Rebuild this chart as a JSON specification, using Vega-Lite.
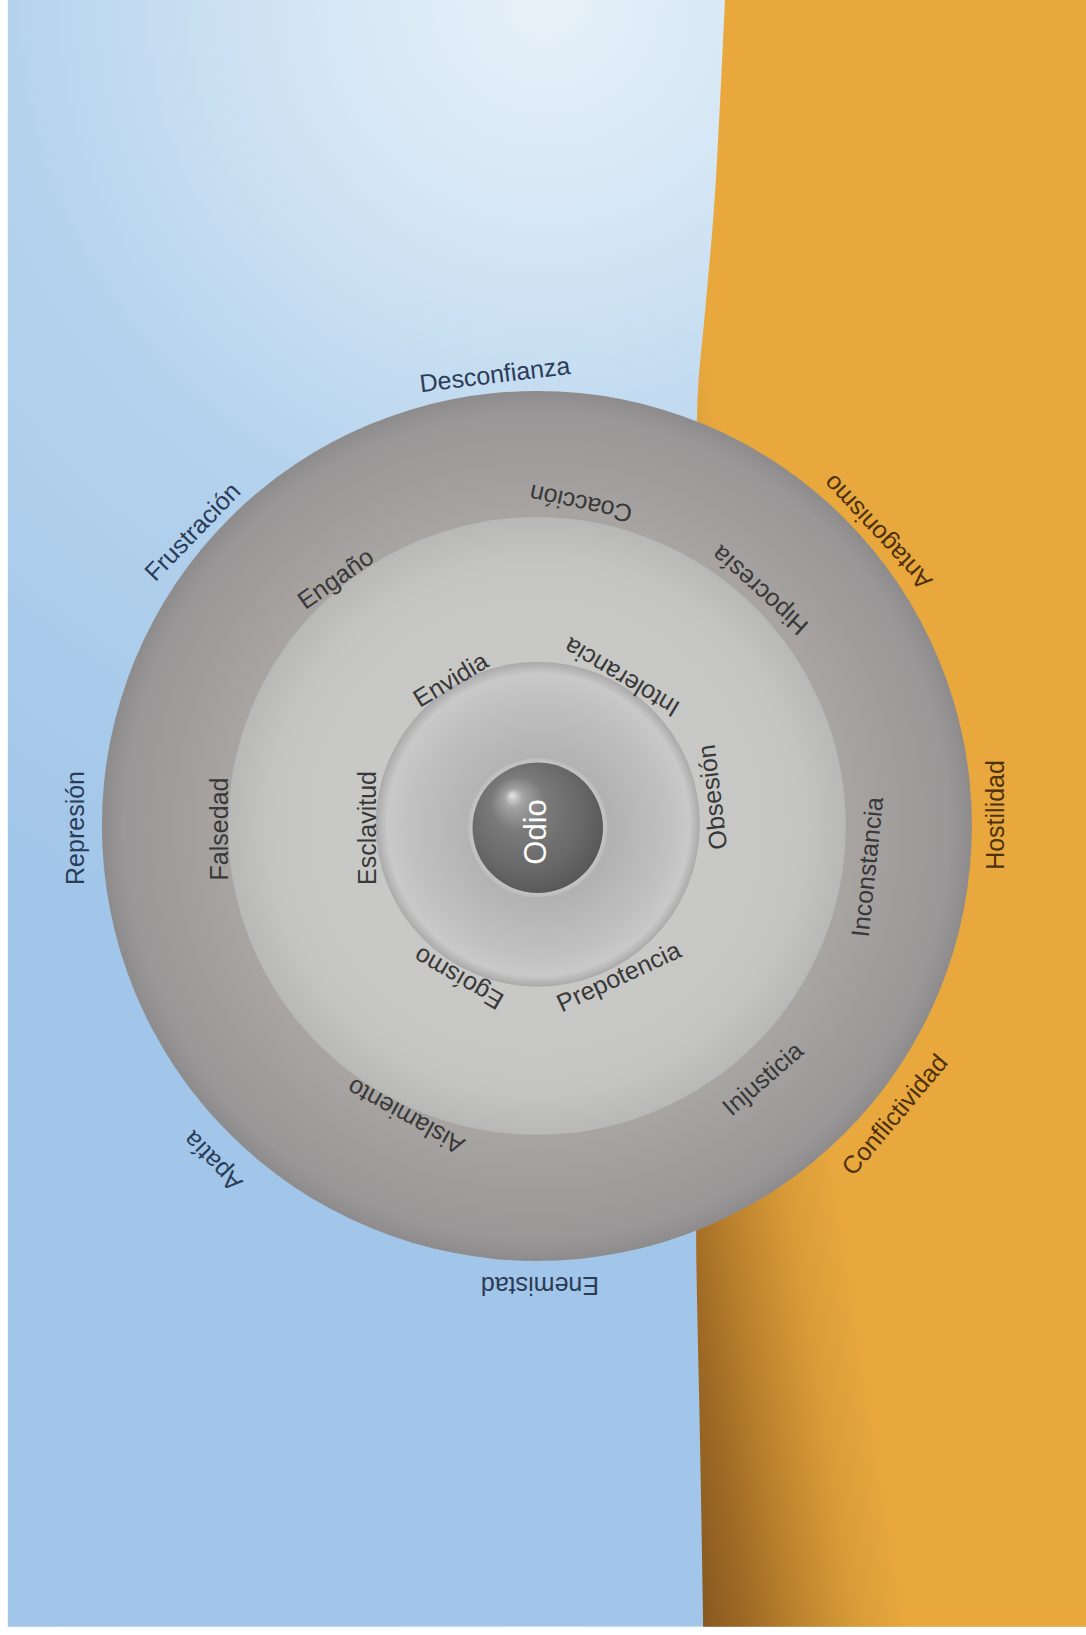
{
  "$schema": "https://vega.github.io/schema/vega-lite/v6.json",
  "width": 1086,
  "height": 1635,
  "autosize": {"type": "fit", "contains": "padding"},
  "padding": 0,
  "background": "#ffffff",
  "config": {"view": {"stroke": null}},
  "layer": [
    {
      "data": {"values": [{"zona": "cielo", "x0": -121.6, "x1": 126.2, "y0": -184.1, "y1": 189.9}]},
      "mark": {"type": "rect", "stroke": null,
        "fill": {"gradient": "radial", "x1": 0.5, "y1": 0.0, "r1": 0, "x2": 0.5, "y2": 0.0, "r2": 0.62,
          "stops": [{"offset": 0, "color": "#e7f1f9"}, {"offset": 0.25, "color": "#d3e5f4"}, {"offset": 0.55, "color": "#b4d2ed"}, {"offset": 1, "color": "#a2c6e9"}]}},
      "encoding": {
        "x": {"field": "x0", "type": "quantitative", "axis": null, "scale": {"domain": [-123.4, 126.2], "nice": false, "zero": false}},
        "x2": {"field": "x1"},
        "y": {"field": "y0", "type": "quantitative", "axis": null, "scale": {"domain": [-186, 189.9], "nice": false, "zero": false}},
        "y2": {"field": "y1"}
      }
    },
    {
      "data": {"values": [
        {"x": 43.22, "y": 189.9},
        {"x": 42.07, "y": 165.98},
        {"x": 40.69, "y": 141.84},
        {"x": 38.62, "y": 117.93},
        {"x": 36.9, "y": 97.93},
        {"x": 36.6, "y": 80.0},
        {"x": 36.6, "y": -94.25},
        {"x": 36.8, "y": -108.97},
        {"x": 37.3, "y": -131.95},
        {"x": 38.2, "y": -184.1}
      ]},
      "mark": {"type": "area", "orient": "horizontal", "interpolate": "monotone",
        "fill": {"gradient": "linear", "x1": 0, "y1": 1, "x2": 0.383, "y2": 0.7475,
          "stops": [{"offset": 0, "color": "#845720"}, {"offset": 0.25, "color": "#9f6a25"}, {"offset": 0.5, "color": "#bf852e"}, {"offset": 0.75, "color": "#d89c38"}, {"offset": 1, "color": "#e8a83e"}]}},
      "encoding": {
        "y": {"field": "y", "type": "quantitative", "axis": null, "scale": {"domain": [-186, 189.9], "nice": false, "zero": false}},
        "x": {"field": "x", "type": "quantitative", "axis": null, "scale": {"domain": [-123.4, 126.2], "nice": false, "zero": false}},
        "x2": {"datum": 126.2}
      }
    },
    {
      "data": {"values": [{"anillo": "exterior", "cx": 0, "cy": 0, "diametro": 200}]},
      "mark": {"type": "point", "shape": "circle", "filled": true, "opacity": 1, "strokeWidth": 0,
        "fill": {"gradient": "radial", "x1": 0.5, "y1": 0.5, "r1": 0, "x2": 0.5, "y2": 0.5, "r2": 0.5,
          "stops": [{"offset": 0, "color": "#b4b2b0"}, {"offset": 0.72, "color": "#a7a4a2"}, {"offset": 0.95, "color": "#999797"}, {"offset": 1, "color": "#8d8b8b"}]}},
      "encoding": {
        "x": {"field": "cx", "type": "quantitative", "axis": null, "scale": {"domain": [-123.4, 126.2], "nice": false, "zero": false}},
        "y": {"field": "cy", "type": "quantitative", "axis": null, "scale": {"domain": [-186, 189.9], "nice": false, "zero": false}},
        "size": {"field": "diametro", "type": "quantitative", "legend": null, "scale": {"type": "pow", "exponent": 2, "domain": [0, 200], "range": [0, 756900]}}
      }
    },
    {
      "data": {"values": [{"anillo": "medio", "cx": 0, "cy": 0, "diametro": 142}]},
      "mark": {"type": "point", "shape": "circle", "filled": true, "opacity": 1, "strokeWidth": 0,
        "fill": {"gradient": "radial", "x1": 0.5, "y1": 0.5, "r1": 0, "x2": 0.5, "y2": 0.5, "r2": 0.5,
          "stops": [{"offset": 0, "color": "#cdcdcb"}, {"offset": 0.85, "color": "#c5c5c3"}, {"offset": 1, "color": "#b8b8b6"}]}},
      "encoding": {
        "x": {"field": "cx", "type": "quantitative", "axis": null, "scale": {"domain": [-123.4, 126.2], "nice": false, "zero": false}},
        "y": {"field": "cy", "type": "quantitative", "axis": null, "scale": {"domain": [-186, 189.9], "nice": false, "zero": false}},
        "size": {"field": "diametro", "type": "quantitative", "legend": null, "scale": {"type": "pow", "exponent": 2, "domain": [0, 200], "range": [0, 756900]}}
      }
    },
    {
      "data": {"values": [{"anillo": "interior", "cx": 0.2, "cy": 0.4, "diametro": 74.5}]},
      "mark": {"type": "point", "shape": "circle", "filled": true, "opacity": 1, "strokeWidth": 0,
        "fill": {"gradient": "radial", "x1": 0.53, "y1": 0.53, "r1": 0, "x2": 0.5, "y2": 0.5, "r2": 0.5,
          "stops": [{"offset": 0, "color": "#a8a8a8"}, {"offset": 0.45, "color": "#b3b3b3"}, {"offset": 0.8, "color": "#c1c1c1"}, {"offset": 0.93, "color": "#c9c9c9"}, {"offset": 1, "color": "#a9a9a9"}]}},
      "encoding": {
        "x": {"field": "cx", "type": "quantitative", "axis": null, "scale": {"domain": [-123.4, 126.2], "nice": false, "zero": false}},
        "y": {"field": "cy", "type": "quantitative", "axis": null, "scale": {"domain": [-186, 189.9], "nice": false, "zero": false}},
        "size": {"field": "diametro", "type": "quantitative", "legend": null, "scale": {"type": "pow", "exponent": 2, "domain": [0, 200], "range": [0, 756900]}}
      }
    },
    {
      "data": {"values": [{"anillo": "halo", "cx": 0.2, "cy": -0.4, "diametro": 32}]},
      "mark": {"type": "point", "shape": "circle", "filled": true, "opacity": 0.9, "strokeWidth": 0,
        "fill": {"gradient": "radial", "x1": 0.5, "y1": 0.5, "r1": 0, "x2": 0.5, "y2": 0.5, "r2": 0.5,
          "stops": [{"offset": 0.85, "color": "#d4d4d4"}, {"offset": 1, "color": "#bdbdbd"}]}},
      "encoding": {
        "x": {"field": "cx", "type": "quantitative", "axis": null, "scale": {"domain": [-123.4, 126.2], "nice": false, "zero": false}},
        "y": {"field": "cy", "type": "quantitative", "axis": null, "scale": {"domain": [-186, 189.9], "nice": false, "zero": false}},
        "size": {"field": "diametro", "type": "quantitative", "legend": null, "scale": {"type": "pow", "exponent": 2, "domain": [0, 200], "range": [0, 756900]}}
      }
    },
    {
      "data": {"values": [{"anillo": "núcleo", "cx": 0.2, "cy": -0.4, "diametro": 30}]},
      "mark": {"type": "point", "shape": "circle", "filled": true, "opacity": 1, "strokeWidth": 0,
        "fill": {"gradient": "radial", "x1": 0.3, "y1": 0.25, "r1": 0, "x2": 0.45, "y2": 0.45, "r2": 0.6,
          "stops": [{"offset": 0, "color": "#e6e6e6"}, {"offset": 0.12, "color": "#a2a2a2"}, {"offset": 0.35, "color": "#7a7a7a"}, {"offset": 0.75, "color": "#676767"}, {"offset": 1, "color": "#555555"}]}},
      "encoding": {
        "x": {"field": "cx", "type": "quantitative", "axis": null, "scale": {"domain": [-123.4, 126.2], "nice": false, "zero": false}},
        "y": {"field": "cy", "type": "quantitative", "axis": null, "scale": {"domain": [-186, 189.9], "nice": false, "zero": false}},
        "size": {"field": "diametro", "type": "quantitative", "legend": null, "scale": {"type": "pow", "exponent": 2, "domain": [0, 200], "range": [0, 756900]}}
      }
    },
    {
      "data": {"values": [
        {"palabra": "Desconfianza", "lado": "frío", "x": -9.66, "y": 103.68, "giro": -7},
        {"palabra": "Frustración", "lado": "frío", "x": -79.08, "y": 67.59, "giro": -46},
        {"palabra": "Represión", "lado": "frío", "x": -105.98, "y": -0.46, "giro": -90},
        {"palabra": "Apatía", "lado": "frío", "x": -74.48, "y": -77.01, "giro": 226},
        {"palabra": "Enemistad", "lado": "frío", "x": 0.69, "y": -105.52, "giro": 180},
        {"palabra": "Conflictividad", "lado": "cálido", "x": 82.3, "y": -66.44, "giro": -50},
        {"palabra": "Hostilidad", "lado": "cálido", "x": 105.52, "y": 2.53, "giro": -90},
        {"palabra": "Antagonismo", "lado": "cálido", "x": 78.39, "y": 67.59, "giro": 227},
        {"palabra": "Coacción", "lado": "anillo", "x": 10.11, "y": 74.25, "giro": 192},
        {"palabra": "Hipocresía", "lado": "anillo", "x": 51.26, "y": 54.25, "giro": 222},
        {"palabra": "Inconstancia", "lado": "anillo", "x": 76.09, "y": -9.43, "giro": -84},
        {"palabra": "Injusticia", "lado": "anillo", "x": 51.95, "y": -58.16, "giro": -41},
        {"palabra": "Aislamiento", "lado": "anillo", "x": -30.11, "y": -66.67, "giro": 209},
        {"palabra": "Falsedad", "lado": "anillo", "x": -72.87, "y": -0.69, "giro": -90},
        {"palabra": "Engaño", "lado": "anillo", "x": -46.21, "y": 56.78, "giro": -35},
        {"palabra": "Envidia", "lado": "anillo", "x": -19.77, "y": 33.56, "giro": -31},
        {"palabra": "Intolerancia", "lado": "anillo", "x": 19.54, "y": 34.25, "giro": 211},
        {"palabra": "Obsesión", "lado": "anillo", "x": 40.46, "y": 6.67, "giro": -97},
        {"palabra": "Prepotencia", "lado": "anillo", "x": 18.85, "y": -34.71, "giro": -25},
        {"palabra": "Egoísmo", "lado": "anillo", "x": -17.93, "y": -34.94, "giro": 210},
        {"palabra": "Esclavitud", "lado": "anillo", "x": -38.85, "y": -0.46, "giro": -90}
      ]},
      "mark": {"type": "text", "font": "Liberation Sans", "fontSize": 25, "align": "center", "baseline": "middle"},
      "encoding": {
        "x": {"field": "x", "type": "quantitative", "axis": null, "scale": {"domain": [-123.4, 126.2], "nice": false, "zero": false}},
        "y": {"field": "y", "type": "quantitative", "axis": null, "scale": {"domain": [-186, 189.9], "nice": false, "zero": false}},
        "text": {"field": "palabra", "type": "nominal"},
        "angle": {"field": "giro", "type": "quantitative", "scale": null},
        "color": {"field": "lado", "type": "nominal", "legend": null, "scale": {"domain": ["frío", "cálido", "anillo"], "range": ["#2b3c58", "#4d310c", "#383838"]}}
      }
    },
    {
      "data": {"values": [{"palabra": "Odio", "x": 0, "y": -1.38, "giro": -90}]},
      "mark": {"type": "text", "font": "Liberation Sans", "fontSize": 31, "align": "center", "baseline": "middle", "color": "#ffffff"},
      "encoding": {
        "x": {"field": "x", "type": "quantitative", "axis": null, "scale": {"domain": [-123.4, 126.2], "nice": false, "zero": false}},
        "y": {"field": "y", "type": "quantitative", "axis": null, "scale": {"domain": [-186, 189.9], "nice": false, "zero": false}},
        "text": {"field": "palabra", "type": "nominal"},
        "angle": {"field": "giro", "type": "quantitative", "scale": null}
      }
    }
  ]
}
